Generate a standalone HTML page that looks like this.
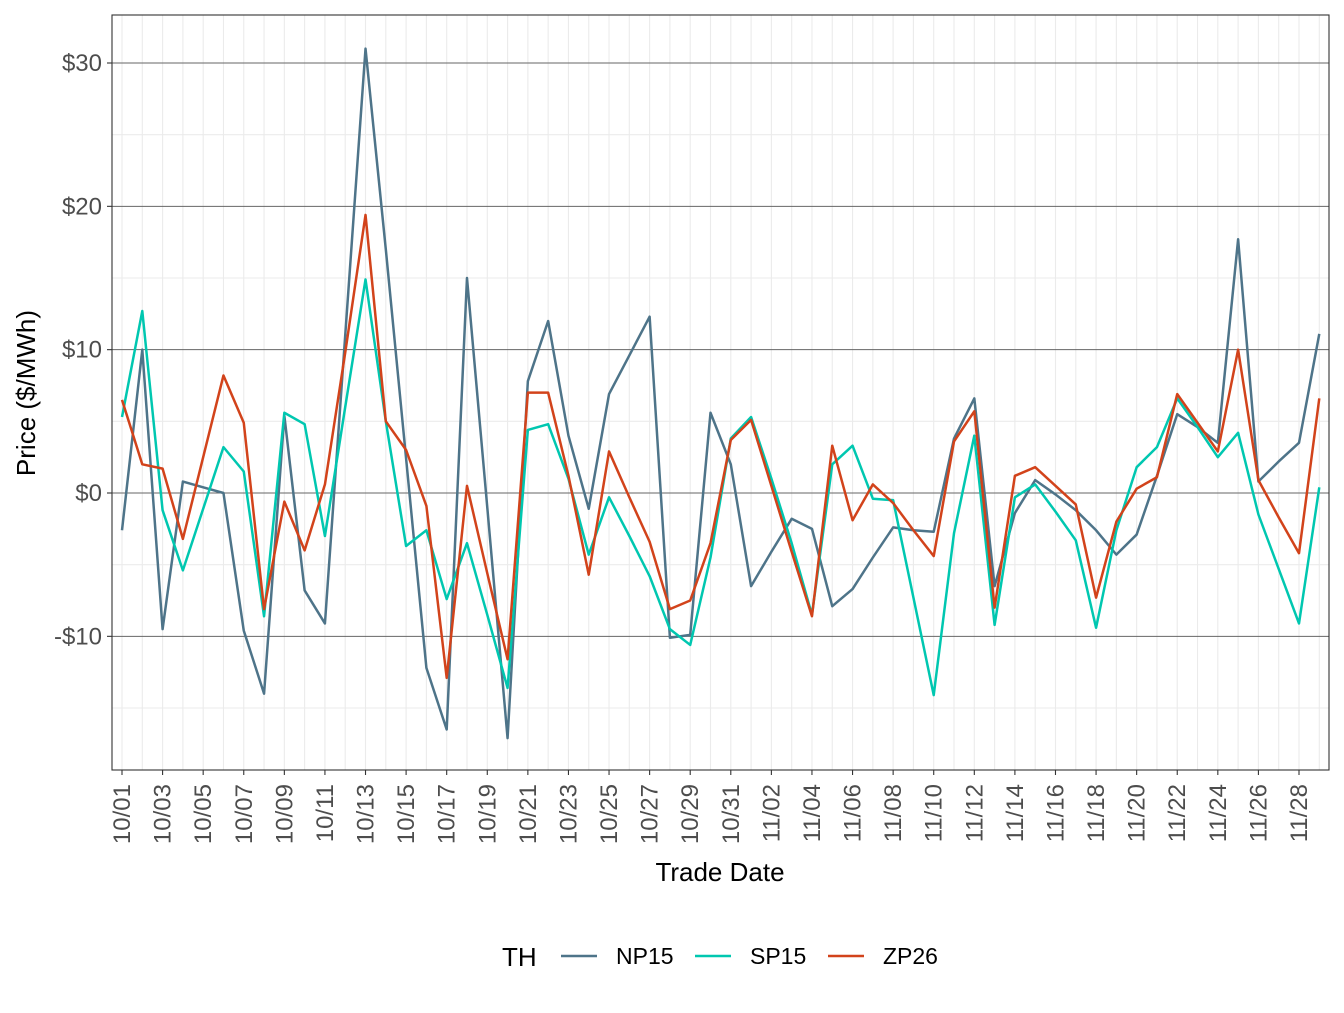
<!DOCTYPE html>
<html><head><meta charset="utf-8"><style>
body{margin:0;background:#fff;font-family:"Liberation Sans",Arial,sans-serif}
svg text{font-family:"Liberation Sans",Arial,sans-serif}
</style></head><body>
<svg id="chart" width="1344" height="1008" xmlns="http://www.w3.org/2000/svg">
<g id="grid"></g><g id="lines"></g><g id="axes"></g>
<text x="720" y="881" font-size="26" text-anchor="middle" fill="#000">Trade Date</text>
<text transform="translate(35,393) rotate(-90)" font-size="26" text-anchor="middle" fill="#000">Price ($/MWh)</text>
<g>
<text x="502" y="966" font-size="26" fill="#000">TH</text>
<line x1="561" x2="597" y1="956" y2="956" stroke="#4e7489" stroke-width="2.5"/>
<text x="616" y="964" font-size="23" fill="#000">NP15</text>
<line x1="695" x2="731" y1="956" y2="956" stroke="#00c7b0" stroke-width="2.5"/>
<text x="750" y="964" font-size="23" fill="#000">SP15</text>
<line x1="828" x2="864" y1="956" y2="956" stroke="#d2431b" stroke-width="2.5"/>
<text x="883" y="964" font-size="23" fill="#000">ZP26</text>
</g>
</svg>
<script>
const dates=["10/01","10/02","10/03","10/04","10/05","10/06","10/07","10/08","10/09","10/10","10/11","10/12","10/13","10/14","10/15","10/16","10/17","10/18","10/19","10/20","10/21","10/22","10/23","10/24","10/25","10/26","10/27","10/28","10/29","10/30","10/31","11/01","11/02","11/03","11/04","11/05","11/06","11/07","11/08","11/09","11/10","11/11","11/12","11/13","11/14","11/15","11/16","11/17","11/18","11/19","11/20","11/21","11/22","11/23","11/24","11/25","11/26","11/27","11/28","11/29"];
const np15=[-2.6,10.0,-9.5,0.8,0.4,0.0,-9.6,-14.0,5.4,-6.8,-9.1,11,31.0,17.0,2.4,-12.2,-16.5,15.0,-1.0,-17.1,7.8,12.0,4.0,-1.1,6.9,9.6,12.3,-10.1,-9.9,5.6,2.0,-6.5,-4.1,-1.8,-2.5,-7.9,-6.7,-4.5,-2.4,-2.6,-2.7,3.8,6.6,-6.5,-1.4,0.9,-0.1,-1.2,-2.6,-4.3,-2.9,1.2,5.5,4.6,3.5,17.7,0.8,2.2,3.5,11.1];
const sp15=[5.3,12.7,-1.2,-5.4,-1.1,3.2,1.5,-8.6,5.6,4.8,-3.0,6,14.9,5.0,-3.7,-2.6,-7.4,-3.5,-8.5,-13.6,4.4,4.8,1.0,-4.3,-0.3,-3.0,-5.8,-9.5,-10.6,-4.5,3.8,5.3,1.0,-3.5,-8.5,2.0,3.3,-0.4,-0.5,-7.3,-14.1,-2.8,4.0,-9.2,-0.3,0.6,-1.3,-3.3,-9.4,-2.6,1.8,3.2,6.6,4.6,2.5,4.2,-1.5,-5.3,-9.1,0.4];
const zp26=[6.5,2.0,1.7,-3.2,2.5,8.2,4.9,-8.1,-0.6,-4.0,0.6,9.8,19.4,5.0,3.0,-0.9,-12.9,0.5,-5.6,-11.6,7.0,7.0,1.2,-5.7,2.9,-0.3,-3.4,-8.1,-7.5,-3.5,3.7,5.1,0.5,-4.1,-8.6,3.3,-1.9,0.6,-0.7,-2.6,-4.4,3.6,5.7,-8.0,1.2,1.8,0.5,-0.8,-7.3,-2.0,0.3,1.1,6.9,4.9,2.9,10.0,0.9,-1.7,-4.2,6.6];
const yTicks=[-10,0,10,20,30];
const yTickLabels=["-$10","$0","$10","$20","$30"];
const yMinor=[-15,-5,5,15,25];
const NS="http://www.w3.org/2000/svg";
const L=112,R=1329,T=15,B=770;
const x=i=>122+i*(1299-122)/58;
const y=v=>493-v*(493-63)/30;
function mk(tag,attrs,parent){const e=document.createElementNS(NS,tag);for(const k in attrs)e.setAttribute(k,attrs[k]);parent.appendChild(e);return e;}
const grid=document.getElementById('grid'),lines=document.getElementById('lines'),axes=document.getElementById('axes');
mk('rect',{x:L,y:T,width:R-L,height:B-T,fill:'#fff'},grid);
dates.forEach((d,i)=>{const l=mk('line',{x1:x(i),x2:x(i),y1:T,y2:B,stroke:'#ebebeb','stroke-width':1.1},grid);

});
yMinor.forEach(v=>{const l=mk('line',{x1:L,x2:R,y1:y(v),y2:y(v),stroke:'#ebebeb','stroke-width':1.1},grid);

});
yTicks.forEach((v,k)=>{const l=mk('line',{x1:L,x2:R,y1:y(v),y2:y(v),stroke:'#666','stroke-width':1},grid);


const t=mk('line',{x1:L-5,x2:L,y1:y(v),y2:y(v),stroke:'#333','stroke-width':1.1},axes);


const tx=mk('text',{x:L-10,y:y(v)+8,'font-size':24,'text-anchor':'end',fill:'#4d4d4d'},axes);tx.textContent=yTickLabels[k];

});
dates.forEach((d,i)=>{if(i%2!==0)return;
const t=mk('line',{x1:x(i),x2:x(i),y1:B,y2:B+5,stroke:'#333','stroke-width':1.1},axes);


const tx=mk('text',{transform:`translate(${x(i)+8},${B+14}) rotate(-90)`,'font-size':24,'text-anchor':'end',fill:'#4d4d4d'},axes);tx.textContent=d;

});
const border=mk('rect',{x:L,y:T,width:R-L,height:B-T,fill:'none',stroke:'#333','stroke-width':1.1},axes);


[[np15,'#4e7489','line-np15'],[sp15,'#00c7b0','line-sp15'],[zp26,'#d2431b','line-zp26']].forEach(([s,c,n])=>{
const p=mk('polyline',{points:s.map((v,i)=>x(i)+','+y(v)).join(' '),fill:'none',stroke:c,'stroke-width':2.5,'stroke-linejoin':'round'},lines);

});
</script>
</body></html>
